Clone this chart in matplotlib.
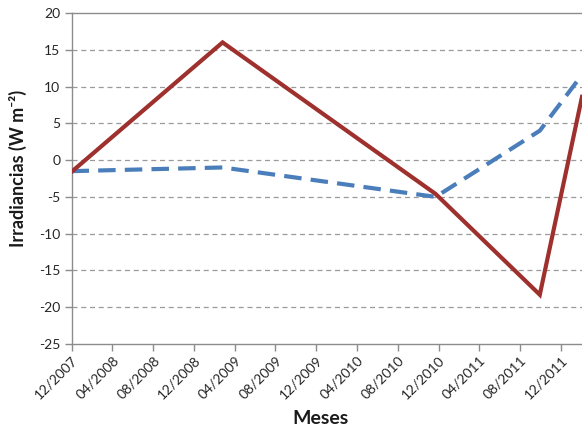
import matplotlib
matplotlib.use("Agg")
import matplotlib.pyplot as plt
from datetime import datetime

plt.rcParams['font.family'] = ['Lato', 'DejaVu Sans']
plt.rcParams['axes.unicode_minus'] = False

# Sampling dates and irradiance values (W m-2)
dates = ["2007-12-01", "2009-02-24", "2010-11-22", "2011-09-29", "2012-02-02"]
red_values = [-1.6, 16.0, -4.6, -18.3, 8.6]
blue_values = [-1.5, -1.0, -5.0, 4.0, 11.6]

tick_labels = ["12/2007", "04/2008", "08/2008", "12/2008", "04/2009", "08/2009",
               "12/2009", "04/2010", "08/2010", "12/2010", "04/2011", "08/2011",
               "12/2011"]
y_ticks = [-25, -20, -15, -10, -5, 0, 5, 10, 15, 20]

x = [datetime.strptime(d, "%Y-%m-%d") for d in dates]
tick_dates = [datetime.strptime(t, "%m/%Y") for t in tick_labels]

fig = plt.figure(figsize=(5.82, 4.30), dpi=100)
ax = fig.add_axes([71.5 / 582, 1 - 344 / 430, 1 - 71.5 / 582, (344 - 13) / 430])

grid_color = "#9a9a9a"
for yv in y_ticks[1:-1]:
    ax.axhline(yv, color=grid_color, lw=0.9, ls=(0, (4, 3)), zorder=1)

ax.plot(x, blue_values, color="#4a7ebb", lw=3.0, ls=(0, (4.2, 2.2)),
        solid_joinstyle="round", zorder=3)
ax.plot(x, red_values, color="#9e302d", lw=3.0, solid_joinstyle="miter", zorder=4)

ax.set_xlim(x[0], x[-1])
ax.set_ylim(-25, 20)
ax.set_yticks(y_ticks)
ax.set_yticklabels([str(v) for v in y_ticks])
ax.set_xticks(tick_dates)
ax.set_xticklabels(tick_labels, rotation=45, ha="right", rotation_mode="anchor")

ax.spines["right"].set_visible(False)
for s in ["left", "bottom", "top"]:
    ax.spines[s].set_color("#8c8c8c")
    ax.spines[s].set_linewidth(1.0)

ax.tick_params(axis="both", direction="out", length=5, width=1.0, color="#8c8c8c",
               labelsize=10, labelcolor="#262626")
ax.tick_params(axis="y", pad=3)
ax.tick_params(axis="x", pad=2)

fig.text(320 / 582, 1 - 418 / 430, "Meses", ha="center", va="center",
         fontsize=14, fontweight="bold", color="#1a1a1a")
fig.text(18 / 582, 1 - 168 / 430, "Irradiancias (W m\u207b\u00b2)",
         ha="center", va="center", rotation=90, fontsize=13, fontweight="bold",
         color="#1a1a1a")

fig.savefig("out.png", dpi=100)
